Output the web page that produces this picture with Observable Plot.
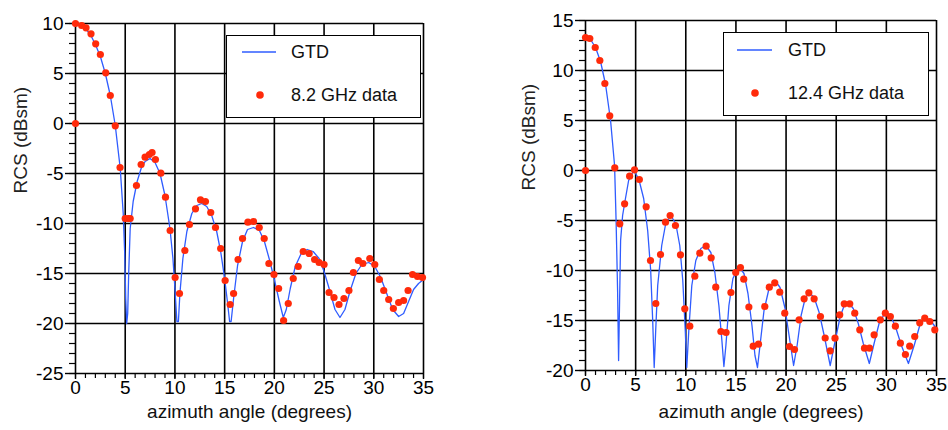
<!DOCTYPE html>
<html>
<head>
<meta charset="utf-8">
<script src="https://cdn.jsdelivr.net/npm/d3@7"></script>
<script src="https://cdn.jsdelivr.net/npm/@observablehq/plot@0.6"></script>
<style>
  html, body { margin: 0; padding: 0; background: #fff; }
  #wrap { position: relative; width: 948px; height: 430px; overflow: hidden; font-family: "Liberation Sans", Arial, sans-serif; }
  .panel { position: absolute; top: 0; }
  .legend { position: absolute; background: #fff; border: 1.5px solid #000; box-sizing: border-box; }
  .legend svg { position: absolute; left: 0; top: 0; }
  .legend span { position: absolute; font-size: 18px; color: #111; line-height: 1; white-space: nowrap; }
</style>
</head>
<body>
<div id="wrap"></div>
<script>
// ---------- data ----------
const xMajorTicks = [0, 5, 10, 15, 20, 25, 30, 35];
const xMinorTicks = d3.range(0, 36, 1);
const leftYMajorTicks = [-25, -20, -15, -10, -5, 0, 5, 10];
const rightYMajorTicks = [-20, -15, -10, -5, 0, 5, 10, 15];
const leftYMinorTicks = d3.range(-25, 11, 1);
const rightYMinorTicks = d3.range(-20, 16, 1);

const leftLegendLabels = ["GTD", "8.2 GHz data"];
const rightLegendLabels = ["GTD", "12.4 GHz data"];
const yAxisLabel = "RCS (dBsm)";
const xAxisLabel = "azimuth angle (degrees)";

// 8.2 GHz measured data [angle, dBsm]
const data82 = [
  [0,10],[0,0],[0.62,9.8],[1.06,9.57],[1.56,8.97],[2.03,7.97],[2.5,6.9],[3.04,5.07],[3.5,2.8],[4.0,-0.23],
  [4.48,-4.4],[5.0,-9.5],[5.3,-9.5],[5.5,-9.5],[6.13,-6.2],[6.6,-4.1],[7.0,-3.37],[7.43,-3.1],[7.7,-2.9],[8.04,-3.6],
  [8.58,-4.97],[9.05,-7.37],[9.52,-10.7],[10.02,-15.4],[10.46,-17.0],[11.0,-12.7],[11.46,-10.1],[12.07,-8.53],[12.57,-7.63],[13.07,-7.8],
  [13.6,-8.9],[14.08,-10.4],[14.6,-12.5],[15.05,-15.7],[15.55,-18.1],[15.9,-17.0],[16.35,-13.6],[16.8,-11.5],[17.34,-9.87],[17.9,-9.8],
  [18.48,-10.4],[18.98,-11.5],[19.45,-14.0],[19.96,-15.1],[20.43,-16.5],[20.93,-19.7],[21.4,-18.0],[21.9,-15.5],[22.4,-14.3],[22.9,-12.8],
  [23.5,-13.0],[24.05,-13.6],[24.5,-13.9],[25.0,-14.1],[25.5,-16.9],[26.0,-17.4],[26.5,-18.1],[27.0,-17.5],[27.5,-16.7],[27.95,-14.9],
  [28.45,-13.7],[28.9,-14.0],[29.6,-13.5],[30.1,-14.1],[30.56,-15.6],[31.0,-16.7],[31.5,-17.6],[31.97,-18.5],[32.5,-17.9],[33.0,-17.7],
  [33.45,-16.7],[33.9,-15.1],[34.4,-15.3],[34.9,-15.4]
];

// GTD prediction, 8.2 GHz
const gtd82 = [
  [0,10],[0.5,9.8],[1.0,9.5],[1.5,8.9],[2.0,7.9],[2.5,6.7],[3.0,5.0],[3.5,2.8],[4.0,-0.2],[4.5,-4.5],
  [4.8,-9.0],[4.95,-13],[5.05,-17.5],[5.15,-20],[5.25,-19],[5.35,-15],[5.5,-10.5],[5.8,-7.8],[6.2,-5.8],[6.6,-4.5],
  [7.0,-3.8],[7.5,-3.5],[8.0,-3.9],[8.5,-5.0],[9.0,-7.2],[9.5,-10.5],[9.8,-13.5],[10.0,-16.5],[10.2,-19.8],[10.35,-19.8],
  [10.5,-17],[10.8,-13.5],[11.2,-10.8],[11.7,-9.0],[12.2,-8.2],[12.7,-8.0],[13.2,-8.3],[13.7,-9.2],[14.2,-10.8],[14.6,-12.8],
  [15.0,-15.5],[15.3,-18],[15.5,-19.8],[15.65,-19.8],[15.9,-17.5],[16.3,-14.2],[16.8,-11.8],[17.3,-10.6],[17.9,-10.4],[18.5,-10.7],
  [19.0,-11.8],[19.5,-13.6],[20.0,-15.6],[20.5,-17.8],[20.9,-19.4],[21.2,-18.6],[21.6,-16.5],[22.1,-14.3],[22.7,-13.0],[23.3,-12.6],
  [23.9,-12.8],[24.5,-13.5],[25.0,-14.8],[25.6,-16.8],[26.1,-18.6],[26.6,-19.4],[27.1,-18.6],[27.6,-16.8],[28.2,-15.0],[28.8,-14.1],
  [29.5,-13.9],[30.1,-14.3],[30.7,-15.4],[31.3,-17.0],[31.9,-18.6],[32.5,-19.3],[33.0,-19.0],[33.5,-17.8],[34.0,-16.6],[34.5,-16.0],
  [35.0,-15.6]
];

// 12.4 GHz measured data
const data124 = [
  [0,13.3],[0,0],[0.43,13.2],[0.97,12.3],[1.43,11.0],[1.93,8.7],[2.42,5.47],[2.92,0.27],[3.42,-5.33],[3.9,-3.33],
  [4.4,-0.57],[4.89,0.07],[5.37,-0.9],[6.05,-3.63],[6.48,-9.0],[7.01,-13.3],[7.48,-8.4],[7.98,-5.17],[8.44,-4.5],[8.97,-5.5],
  [9.47,-8.43],[9.9,-13.83],[10.4,-15.57],[10.9,-10.57],[11.4,-8.27],[12.03,-7.57],[12.53,-8.73],[12.99,-11.67],[13.5,-16.1],[14.02,-16.2],
  [14.5,-12.2],[14.98,-10.2],[15.45,-9.7],[15.78,-10.87],[16.29,-13.65],[16.72,-17.57],[17.25,-17.37],[17.88,-13.6],[18.33,-11.67],[18.87,-11.23],
  [19.37,-12.17],[19.87,-14.27],[20.34,-17.6],[20.84,-17.9],[21.3,-14.93],[21.8,-12.83],[22.27,-12.23],[22.8,-12.83],[23.43,-14.6],[23.9,-16.75],
  [24.4,-18.03],[24.88,-16.77],[25.35,-14.43],[25.8,-13.33],[26.35,-13.33],[26.85,-14.27],[27.35,-15.93],[27.82,-17.77],[28.32,-17.77],[28.78,-16.43],
  [29.4,-14.93],[29.9,-14.27],[30.4,-14.6],[30.9,-15.57],[31.4,-17.27],[31.9,-18.4],[32.33,-17.57],[32.83,-16.6],[33.33,-15.23],[33.83,-14.77],
  [34.33,-15.1],[34.83,-15.93]
];

// GTD prediction, 12.4 GHz
const gtd124 = [
  [0,13.3],[0.5,13.1],[1.0,12.3],[1.5,10.9],[2.0,8.6],[2.5,5.0],[2.9,0.5],[3.05,-5],[3.2,-12],[3.3,-19],
  [3.4,-13],[3.5,-7],[3.7,-4.5],[3.95,-3.0],[4.3,-1.0],[4.8,0.0],[5.3,-0.8],[5.8,-2.8],[6.2,-6],[6.5,-10],
  [6.7,-15],[6.85,-19.7],[7.0,-16],[7.2,-11.5],[7.6,-7.5],[8.0,-5.3],[8.5,-4.5],[9.0,-5.3],[9.4,-7.5],[9.7,-11],
  [9.95,-16],[10.1,-19.7],[10.3,-16],[10.6,-11.5],[11.0,-9.0],[11.5,-7.8],[12.0,-7.5],[12.5,-8.2],[12.9,-10.2],[13.3,-13.5],
  [13.6,-17],[13.8,-19.6],[14.0,-17.5],[14.3,-13.5],[14.7,-10.8],[15.3,-9.6],[15.8,-10.3],[16.2,-12.3],[16.6,-15.5],[16.9,-18.5],
  [17.15,-19.7],[17.4,-17.5],[17.8,-14],[18.3,-11.8],[18.9,-11.0],[19.4,-11.7],[19.9,-13.8],[20.3,-16.5],[20.75,-19.5],[21.1,-17.5],
  [21.5,-14.5],[21.9,-12.8],[22.3,-12.2],[22.8,-12.7],[23.3,-14.2],[23.8,-16.5],[24.4,-19.5],[24.9,-17],[25.4,-14.6],[25.8,-13.5],
  [26.2,-13.2],[26.7,-13.8],[27.2,-15.3],[27.7,-17.3],[28.3,-19.3],[28.8,-17.2],[29.3,-15.2],[29.9,-14.2],[30.4,-14.5],[30.9,-15.6],
  [31.5,-17.5],[32.2,-19.3],[32.8,-17.4],[33.3,-15.6],[33.8,-14.7],[34.4,-15.0],[35.0,-15.8]
];

// ---------- styling ----------
const LINE = "#2f5cff";
const DOT = "#ff2a0a";
const TICK_FONT = "'Liberation Sans Narrow', 'Liberation Sans', Arial, sans-serif";
const LABEL_FONT = "'Liberation Sans', Arial, sans-serif";
const fmt = d => String(d);

function panel({data, gtd, yDomain, yMajor, yMinor, width, marginLeft, marginRight, marginTop, marginBottom, yLabelDx, yLabelDy, xLabelDy}) {
  return Plot.plot({
    width, height: 430, marginLeft, marginRight, marginTop, marginBottom,
    x: {domain: [0, 35], label: null},
    y: {domain: yDomain, label: null},
    style: {fontFamily: TICK_FONT, fontSize: "19px", color: "#000", background: "transparent", overflow: "visible"},
    marks: [
      Plot.gridX(xMajorTicks, {stroke: "#000", strokeOpacity: 1, strokeWidth: 1.6}),
      Plot.gridY(yMajor, {stroke: "#000", strokeOpacity: 1, strokeWidth: 1.6}),
      Plot.axisX(xMinorTicks, {tickSize: 5, tickFormat: () => "", label: null, strokeWidth: 1.2}),
      Plot.axisX(xMajorTicks, {tickSize: 6, tickPadding: 1, tickFormat: fmt, label: null, strokeWidth: 1.4, fontSize: 19}),
      Plot.axisY(yMinor, {tickSize: 6, tickFormat: () => "", label: null, strokeWidth: 1.2}),
      Plot.axisY(yMajor, {tickSize: 10, tickPadding: 2, tickFormat: fmt, label: null, strokeWidth: 1.4, fontSize: 19}),
      Plot.line(gtd, {x: d => d[0], y: d => d[1], stroke: LINE, strokeWidth: 1.3}),
      Plot.dot(data, {x: d => d[0], y: d => d[1], r: 3.6, fill: DOT, stroke: "none"}),
      Plot.text([yAxisLabel], {frameAnchor: "left", rotate: -90, dx: yLabelDx, dy: yLabelDy, fontFamily: LABEL_FONT, fontSize: 19, fill: "#222"}),
      Plot.text([xAxisLabel], {frameAnchor: "bottom", dy: xLabelDy, fontFamily: LABEL_FONT, fontSize: 19, fill: "#111"})
    ]
  });
}

const wrap = document.getElementById("wrap");

const left = panel({
  data: data82, gtd: gtd82, yDomain: [-25, 10], yMajor: leftYMajorTicks, yMinor: leftYMinorTicks,
  width: 470, marginLeft: 75, marginRight: 47, marginTop: 23, marginBottom: 57,
  yLabelDx: -55, yLabelDy: -5, xLabelDy: 44
});
left.classList.add("panel");
left.style.left = "0px";
wrap.appendChild(left);

const right = panel({
  data: data124, gtd: gtd124, yDomain: [-20, 15], yMajor: rightYMajorTicks, yMinor: rightYMinorTicks,
  width: 478, marginLeft: 115, marginRight: 12, marginTop: 20, marginBottom: 60,
  yLabelDx: -57, yLabelDy: -5, xLabelDy: 47
});
right.classList.add("panel");
right.style.left = "470px";
wrap.appendChild(right);

// ---------- legends ----------
function legend(box, labels) {
  const div = document.createElement("div");
  div.className = "legend";
  Object.assign(div.style, {left: box.x + "px", top: box.y + "px", width: box.w + "px", height: box.h + "px"});
  const ns = "http://www.w3.org/2000/svg";
  const svg = document.createElementNS(ns, "svg");
  svg.setAttribute("width", box.w);
  svg.setAttribute("height", box.h);
  const ln = document.createElementNS(ns, "line");
  ln.setAttribute("x1", box.lineX0); ln.setAttribute("x2", box.lineX1);
  ln.setAttribute("y1", box.row1); ln.setAttribute("y2", box.row1);
  ln.setAttribute("stroke", LINE); ln.setAttribute("stroke-width", 1.5);
  svg.appendChild(ln);
  const c = document.createElementNS(ns, "circle");
  c.setAttribute("cx", box.dotX); c.setAttribute("cy", box.row2); c.setAttribute("r", 3.8);
  c.setAttribute("fill", DOT);
  svg.appendChild(c);
  div.appendChild(svg);
  labels.forEach((t, i) => {
    const s = document.createElement("span");
    s.textContent = t;
    s.style.left = box.textX + "px";
    s.style.top = ((i === 0 ? box.row1 : box.row2) - 9) + "px";
    div.appendChild(s);
  });
  wrap.appendChild(div);
}

legend({x: 226, y: 35, w: 195, h: 83, lineX0: 15, lineX1: 49, row1: 16, row2: 59, dotX: 33, textX: 64}, leftLegendLabels);
legend({x: 723, y: 32, w: 206, h: 84, lineX0: 13, lineX1: 48, row1: 17, row2: 60, dotX: 31, textX: 64}, rightLegendLabels);
</script>
</body>
</html>
